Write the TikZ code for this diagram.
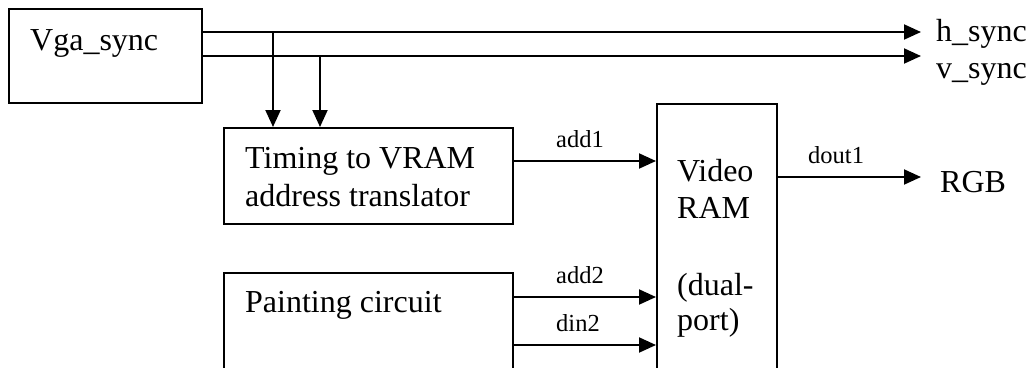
\documentclass[tikz,border=0pt]{standalone}
\usepackage{fontspec}
\setmainfont{Liberation Serif}
\usetikzlibrary{arrows.meta}
\begin{document}
\begin{tikzpicture}[x=1pt,y=-1pt,
  blk/.style={draw, line width=2pt, inner sep=0pt},
  arr/.style={line width=2pt, -{Triangle[length=17pt,width=15pt]}},
  big/.style={font=\fontsize{32}{38}\selectfont, inner sep=0pt, anchor=base west},
  small/.style={font=\fontsize{24.5}{29}\selectfont, inner sep=0pt, anchor=base west}]
\path[use as bounding box, clip] (0,0) rectangle (1034,367);

% blocks
\node[blk, minimum width=193pt, minimum height=94pt] (vga) at (105,56) {};
\node[blk, minimum width=289pt, minimum height=96pt] (timing) at (368.5,176) {};
\node[blk, minimum width=289pt, minimum height=148pt] (paint) at (368.5,347) {};
\node[blk, minimum width=120pt, minimum height=316pt] (vram) at (717,262) {};

% block texts
\node[big] (tVga) at (30,50) {Vga\_sync};
\node[big] (tTim1) at (245,168) {Timing to VRAM};
\node[big] (tTim2) at (245,206) {address translator};
\node[big] (tPaint) at (245,312) {Painting circuit};
\node[big] (tV1) at (677,181) {Video};
\node[big] (tV2) at (677,218) {RAM};
\node[big] (tV3) at (677,295) {(dual-};
\node[big] (tV4) at (677,330) {port)};

% output names
\node[big] (hs) at (936,41) {h\_sync};
\node[big] (vs) at (936,78) {v\_sync};
\node[big] (rgb) at (940,192) {RGB};

% signal labels
\node[small] (lAdd1) at (556,147) {add1};
\node[small] (lAdd2) at (556,283) {add2};
\node[small] (lDin2) at (556,331) {din2};
\node[small] (lDout) at (808,163) {dout1};

% wire ends and taps
\coordinate (hsEnd) at (921,32);
\coordinate (vsEnd) at (921,56);
\coordinate (tapH) at (273,32);
\coordinate (tapV) at (320,56);
\coordinate (rgbEnd) at (921,177);
\coordinate (yAdd1) at (0,161);
\coordinate (yAdd2) at (0,297);
\coordinate (yDin2) at (0,345);

% sync outputs
\draw[arr] (vga.east |- hsEnd) -- (hsEnd);
\draw[arr] (vga.east |- vsEnd) -- (vsEnd);
\draw[arr] (tapH) -- (tapH |- timing.north);
\draw[arr] (tapV) -- (tapV |- timing.north);

% address and data paths
\draw[arr] (timing.east |- yAdd1) -- (vram.west |- yAdd1);
\draw[arr] (paint.east |- yAdd2) -- (vram.west |- yAdd2);
\draw[arr] (paint.east |- yDin2) -- (vram.west |- yDin2);
\draw[arr] (vram.east |- rgbEnd) -- (rgbEnd);
\end{tikzpicture}
\end{document}
